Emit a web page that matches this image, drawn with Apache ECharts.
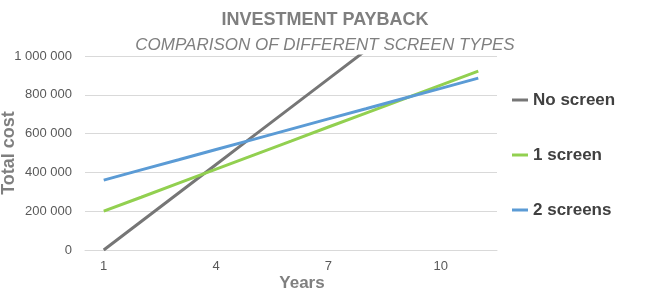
<!DOCTYPE html>
<html>
<head>
<meta charset="utf-8">
<script src="https://cdn.jsdelivr.net/npm/echarts@6/dist/echarts.min.js"></script>
<style>html,body{margin:0;padding:0;background:#fff;}#c{width:650px;height:300px;}</style>
</head>
<body>
<div id="c"></div>
<script>
const years = ['1','2','3','4','5','6','7','8','9','10','11'];
const noScreen = [0, 147000, 294000, 441000, 588000, 735000, 882000, 1029000, 1176000, 1323000, 1470000];
const oneScreen = [200000, 272000, 345000, 417000, 489000, 561000, 634000, 706000, 778000, 850000, 922000];
const twoScreens = [360000, 413000, 465000, 518000, 570000, 623000, 676000, 728000, 781000, 833000, 886000];
const seriesNames = ['No screen', '1 screen', '2 screens'];
const colors = ['#767676', '#92d050', '#5b9bd5'];

const font = '"Liberation Sans", Arial, sans-serif';
const chart = echarts.init(document.getElementById('c'), null, {renderer: 'canvas'});
chart.setOption({
  animation: false,
  color: colors,
  title: {
    text: 'INVESTMENT PAYBACK',
    subtext: 'COMPARISON OF DIFFERENT SCREEN TYPES',
    left: 'center',
    top: 6,
    itemGap: 8,
    textStyle: {fontFamily: font, fontSize: 18, fontWeight: 'bold', color: '#7f7f7f'},
    subtextStyle: {fontFamily: font, fontSize: 17, fontStyle: 'italic', color: '#7f7f7f'}
  },
  grid: {left: 85, right: 153, top: 56, bottom: 50, containLabel: false, outerBoundsMode: 'none'},
  legend: {
    orient: 'vertical',
    left: 507,
    top: 85,
    icon: 'rect',
    itemWidth: 16,
    itemHeight: 3,
    itemGap: 35,
    textStyle: {fontFamily: font, fontSize: 17, fontWeight: 'bold', color: '#404040', lineHeight: 20},
    data: seriesNames
  },
  xAxis: {
    type: 'category',
    data: years,
    boundaryGap: true,
    name: 'Years',
    nameLocation: 'middle',
    nameGap: 25,
    nameMoveOverlap: false,
    nameTextStyle: {fontFamily: font, fontSize: 17, fontWeight: 'bold', color: '#7f7f7f', padding: [0, 0, 0, 22]},
    axisLine: {lineStyle: {color: '#d9d9d9'}},
    axisTick: {show: false},
    axisLabel: {interval: 2, fontFamily: font, fontSize: 13, color: '#595959', margin: 10}
  },
  yAxis: {
    type: 'value',
    min: 0,
    max: 1000000,
    interval: 200000,
    name: 'Total cost',
    nameLocation: 'middle',
    nameRotate: 90,
    nameGap: 67,
    nameMoveOverlap: false,
    nameTextStyle: {fontFamily: font, fontSize: 18, fontWeight: 'bold', color: '#7f7f7f'},
    axisLine: {show: false},
    axisTick: {show: false},
    splitLine: {lineStyle: {color: '#d9d9d9'}},
    axisLabel: {
      fontFamily: font, fontSize: 13, color: '#595959', margin: 13,
      formatter: v => String(v).replace(/\B(?=(\d{3})+(?!\d))/g, ' ')
    }
  },
  series: [
    {name: seriesNames[0], type: 'line', data: noScreen, symbol: 'none', lineStyle: {width: 3}, clip: true},
    {name: seriesNames[1], type: 'line', data: oneScreen, symbol: 'none', lineStyle: {width: 3}},
    {name: seriesNames[2], type: 'line', data: twoScreens, symbol: 'none', lineStyle: {width: 3}}
  ]
});
</script>
</body>
</html>
